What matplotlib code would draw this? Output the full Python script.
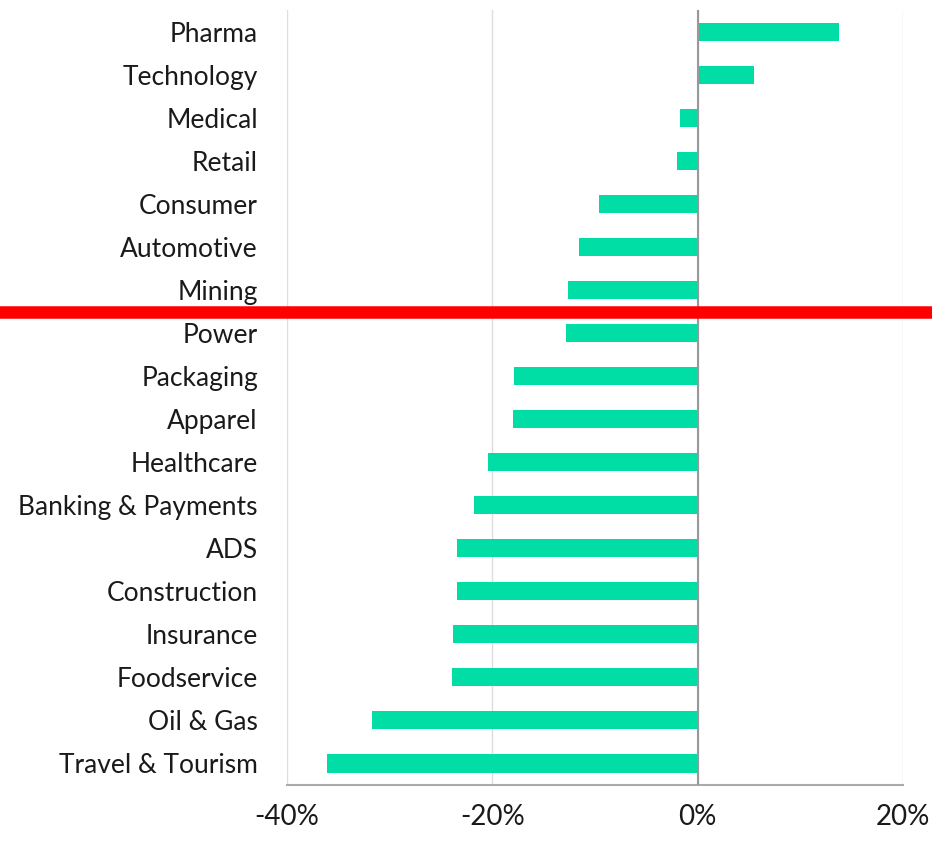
import matplotlib.pyplot as plt
from matplotlib.lines import Line2D
from matplotlib.ticker import FuncFormatter

plt.rcParams['font.family'] = ['Lato', 'DejaVu Sans']

sectors = ['Pharma', 'Technology', 'Medical', 'Retail', 'Consumer', 'Automotive',
           'Mining', 'Power', 'Packaging', 'Apparel', 'Healthcare',
           'Banking & Payments', 'ADS', 'Construction', 'Insurance',
           'Foodservice', 'Oil & Gas', 'Travel & Tourism']
change = [13.8, 5.5, -1.7, -2.0, -9.6, -11.6, -12.6, -12.8, -17.9, -18.0, -20.4,
          -21.8, -23.4, -23.4, -23.8, -23.9, -31.7, -36.1]
xticks = [-40, -20, 0, 20]

fig = plt.figure(figsize=(9.32, 8.42), dpi=100)
ax = fig.add_axes([0.308, 0.0677, 0.661, 0.9203])

pos = list(range(len(sectors)))
ax.barh(pos, change, height=0.42, color='#00DDA5', zorder=3)
ax.set_ylim(len(sectors) - 0.5, -0.5)
ax.set_xlim(-40, 20)
ax.set_yticks(pos)
ax.set_yticklabels(sectors, fontsize=19, color='#1a1a1a')
ax.set_xticks(xticks)
ax.xaxis.set_major_formatter(FuncFormatter(lambda v, p: f'{v:.0f}%'))
ax.tick_params(axis='x', labelsize=20, length=0, pad=14, colors='#1a1a1a')
ax.tick_params(axis='y', length=0, pad=21)

ax.grid(axis='x', color='#dddddd', linewidth=1, zorder=0)
ax.axvline(0, color='#999999', linewidth=1.5, zorder=4)
for s in ['top', 'right', 'left']:
    ax.spines[s].set_visible(False)
ax.spines['bottom'].set_color('#aaaaaa')
ax.spines['bottom'].set_linewidth(1.5)

# red divider across the whole figure
fig.add_artist(Line2D([0, 1], [1 - 312 / 842, 1 - 312 / 842], color='red',
                      linewidth=9, transform=fig.transFigure))

fig.savefig('out.png', dpi=100)
